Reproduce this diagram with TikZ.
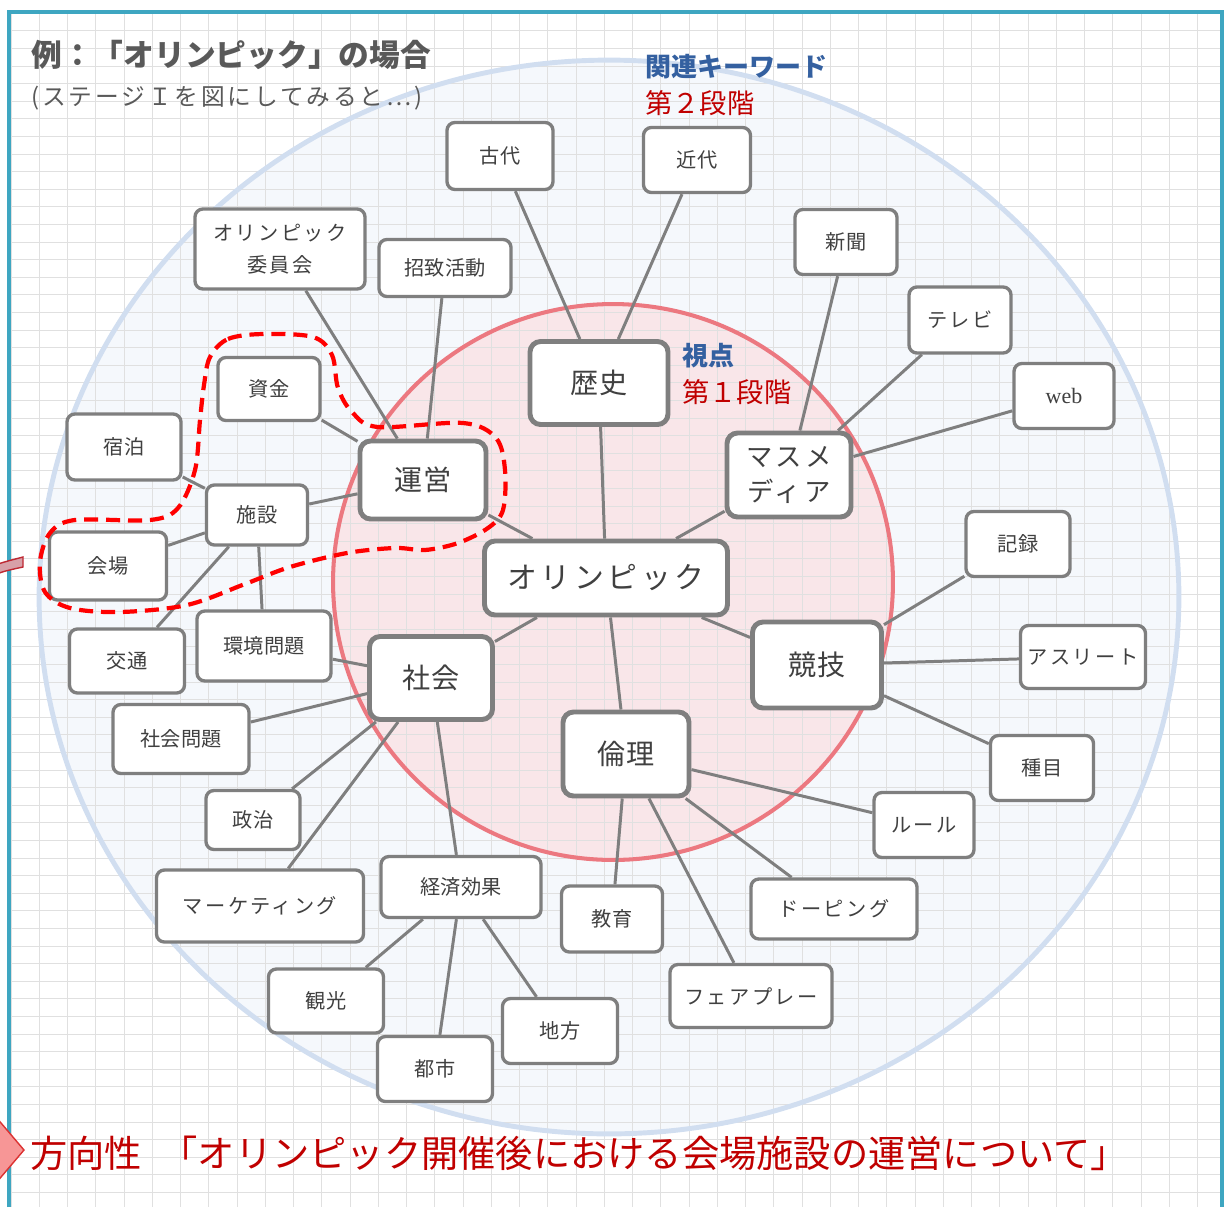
\documentclass[tikz,border=0pt]{standalone}
\usepackage{fontspec}
\setmainfont{Noto Sans CJK JP}
\newfontfamily\jpsp[LetterSpace=12]{Noto Sans CJK JP}
\newfontfamily\webfont{Liberation Serif}
\usetikzlibrary{calc}
\definecolor{framecol}{RGB}{62,166,193}
\definecolor{boxgray}{RGB}{127,127,127}
\definecolor{txtgray}{RGB}{64,64,64}
\definecolor{titlegray}{RGB}{89,89,89}
\definecolor{kwblue}{RGB}{52,96,160}
\definecolor{stagered}{RGB}{192,0,0}
\definecolor{outfill}{RGB}{245,248,252}
\definecolor{outline}{RGB}{209,222,240}
\definecolor{vpfill}{RGB}{249,230,233}
\definecolor{vpline}{RGB}{236,120,128}
\definecolor{gridcol}{RGB}{224,224,224}
\pgfdeclarelayer{back}
\pgfdeclarelayer{mid}
\pgfsetlayers{back,mid,main}

\begin{document}
\begin{tikzpicture}[x=0.02cm,y=-0.02cm,
    kw/.style={draw=boxgray,line width=1.9pt,fill=white,rounded corners=4.5pt,inner sep=0pt,
      text=txtgray,align=center,font=\fontsize{11.5}{18}\selectfont},
    vp/.style={kw,line width=2.8pt,rounded corners=6pt,font=\fontsize{16}{20}\selectfont},
    wh/.style 2 args={minimum width=#1*0.02cm,minimum height=#2*0.02cm},
    ln/.style={draw=boxgray,line width=1.7pt}]
  \useasboundingbox (0,0) rectangle (1226,1207);

  % background: circles and grid paper
  \begin{pgfonlayer}{back}
    \fill[outfill] (609,597) ellipse [x radius=11.4cm,y radius=10.74cm];
    \fill[vpfill] (613,582) ellipse [x radius=5.6cm,y radius=5.56cm];
    \foreach \i in {0,...,42}
      \draw[gridcol,line width=0.5pt] ({11+\i*28.25},12) -- ({11+\i*28.25},1207);
    \foreach \j in {0,...,67}
      \draw[gridcol,line width=0.5pt] (9,{13.3+\j*17.6}) -- (1222,{13.3+\j*17.6});
    \draw[outline,line width=2.8pt] (609,597) ellipse [x radius=11.4cm,y radius=10.74cm];
    \draw[vpline,line width=2.3pt] (613,582) ellipse [x radius=5.6cm,y radius=5.56cm];
  \end{pgfonlayer}

  % theme and viewpoints
  \node[vp,wh={243}{74},font=\jpsp\fontsize{17}{20}\selectfont] (olym) at (606,578) {オリンピック};
  \node[vp,wh={138}{83}] (rekishi) at (599,383) {歴史};
  \node[vp,wh={126}{78}] (unei) at (423,480) {運営};
  \node[vp,wh={124}{84},font=\jpsp\fontsize{15}{20}\selectfont] (masu) at (789,475) {マスメ\\ディア};
  \node[vp,wh={123}{83}] (shakai) at (431,678) {社会};
  \node[vp,wh={129}{86}] (kyogi) at (817,665) {競技};
  \node[vp,wh={126}{84}] (rinri) at (626,754) {倫理};

  % keywords
  \node[kw,wh={106}{67}] (kodai) at (500,156) {古代};
  \node[kw,wh={107}{65}] (kindai) at (697,160) {近代};
  \node[kw,wh={170}{80},font=\jpsp\fontsize{11.5}{18}\selectfont] (iinkai) at (280,249) {オリンピック\\委員会};
  \node[kw,wh={132}{57}] (shochi) at (445,268) {招致活動};
  \node[kw,wh={102}{65}] (shinbun) at (846,242) {新聞};
  \node[kw,wh={102}{66},font=\jpsp\fontsize{11.5}{18}\selectfont] (terebi) at (960,320) {テレビ};
  \node[kw,wh={100}{65},font=\webfont\fontsize{12.5}{18}\selectfont] (web) at (1064,396) {web};
  \node[kw,wh={102}{63}] (shikin) at (269,389) {資金};
  \node[kw,wh={114}{66}] (shukuhaku) at (124,447) {宿泊};
  \node[kw,wh={101}{60}] (shisetsu) at (257,515) {施設};
  \node[kw,wh={117}{68}] (kaijo) at (108,566) {会場};
  \node[kw,wh={115}{64}] (kotsu) at (127,661) {交通};
  \node[kw,wh={134}{70}] (kankyo) at (264,646) {環境問題};
  \node[kw,wh={136}{69}] (shakaimon) at (181,739) {社会問題};
  \node[kw,wh={94}{59}] (seiji) at (253,820) {政治};
  \node[kw,wh={207}{72},font=\jpsp\fontsize{11.5}{18}\selectfont] (marke) at (260,906) {マーケティング};
  \node[kw,wh={160}{61}] (keizai) at (461,887) {経済効果};
  \node[kw,wh={115}{64}] (kanko) at (326,1001) {観光};
  \node[kw,wh={115}{65}] (toshi) at (435,1069) {都市};
  \node[kw,wh={115}{65}] (chiho) at (560,1031) {地方};
  \node[kw,wh={101}{66}] (kyoiku) at (612,919) {教育};
  \node[kw,wh={166}{60},font=\jpsp\fontsize{11.5}{18}\selectfont] (doping) at (834,909) {ドーピング};
  \node[kw,wh={162}{63},font=\jpsp\fontsize{11.5}{18}\selectfont] (fair) at (751,996) {フェアプレー};
  \node[kw,wh={100}{65},font=\jpsp\fontsize{11.5}{18}\selectfont] (rule) at (924,825) {ルール};
  \node[kw,wh={103}{65}] (shumoku) at (1042,768) {種目};
  \node[kw,wh={125}{63},font=\jpsp\fontsize{11.5}{18}\selectfont] (athlete) at (1083,657) {アスリート};
  \node[kw,wh={104}{65}] (kiroku) at (1018,544) {記録};

  % connectors
  \begin{pgfonlayer}{mid}
    \foreach \a/\b in {rekishi/olym,unei/olym,masu/olym,shakai/olym,kyogi/olym,rinri/olym,
        rekishi/kodai,rekishi/kindai,unei/iinkai,unei/shochi,unei/shikin,unei/shisetsu,
        shisetsu/shukuhaku,shisetsu/kaijo,shisetsu/kotsu,shisetsu/kankyo,
        masu/shinbun,masu/terebi,masu/web,
        shakai/kankyo,shakai/shakaimon,shakai/seiji,shakai/marke,shakai/keizai,
        keizai/kanko,keizai/toshi,keizai/chiho,
        kyogi/kiroku,kyogi/athlete,kyogi/shumoku,
        rinri/kyoiku,rinri/fair,rinri/doping,rinri/rule}
      \draw[ln] (\a) -- (\b);
  \end{pgfonlayer}

  % paper frame and arrows from the previous page
  \draw[framecol,line width=2pt] (9,1207) -- (9,12) -- (1222,12) -- (1222,1207);
  \begin{scope}
    \clip (0,0) rectangle (1226,1207);
    \filldraw[fill={rgb,255:red,215;green,160;blue,168},draw={rgb,255:red,190;green,40;blue,50},line width=0.8pt]
      (-20,571) .. controls (0,563) .. (23,557) -- (23,567) .. controls (0,572) .. (-20,582) -- cycle;
    \filldraw[fill={rgb,255:red,247;green,150;blue,150},draw={rgb,255:red,220;green,50;blue,50},line width=0.8pt]
      (-10,1110) -- (24,1150) -- (-10,1190) -- cycle;
  \end{scope}

  % focus of the direction
  \draw[red,line width=2.4pt,dash pattern=on 8pt off 4.5pt]
    plot[smooth cycle,tension=0.55] coordinates {(210,357) (228,339) (263,334) (313,337) (332,355)
      (338,388) (352,412) (378,427) (463,423) (496,438) (505,470) (503,510) (488,528) (458,543)
      (425,550) (395,548) (347,553) (290,567) (245,584) (187,605) (120,612) (70,608) (45,592)
      (40,562) (50,533) (75,520) (150,520) (178,508) (195,470) (200,420) (204,385)};

  % texts
  \node[anchor=west,inner sep=0pt,text=titlegray,font=\bfseries\fontsize{17.5}{20}\selectfont] (title) at (31,55) {例：「オリンピック」の場合};
  \node[anchor=west,inner sep=0pt,text=titlegray,font=\jpsp\fontsize{13.5}{16}\selectfont] (subtitle) at (31,98) {(ステージＩを図にしてみると⋯)};
  \node[anchor=west,inner sep=0pt,text=kwblue,font=\bfseries\fontsize{14.8}{18}\selectfont] (kwlabel) at (645,67) {関連キーワード};
  \node[anchor=west,inner sep=0pt,text=stagered,font=\fontsize{15.5}{18}\selectfont] (stage2) at (645,103) {第２段階};
  \node[anchor=west,inner sep=0pt,text=kwblue,font=\bfseries\fontsize{14.8}{18}\selectfont] (vplabel) at (682,356) {視点};
  \node[anchor=west,inner sep=0pt,text=stagered,font=\fontsize{15.5}{18}\selectfont] (stage1) at (682,392) {第１段階};
  \node[anchor=west,inner sep=0pt,text=stagered,font=\fontsize{21.2}{24}\selectfont] (direction) at (30,1153) {方向性\hspace{0.5em}「オリンピック開催後における会場施設の運営について」};
\end{tikzpicture}
\end{document}
